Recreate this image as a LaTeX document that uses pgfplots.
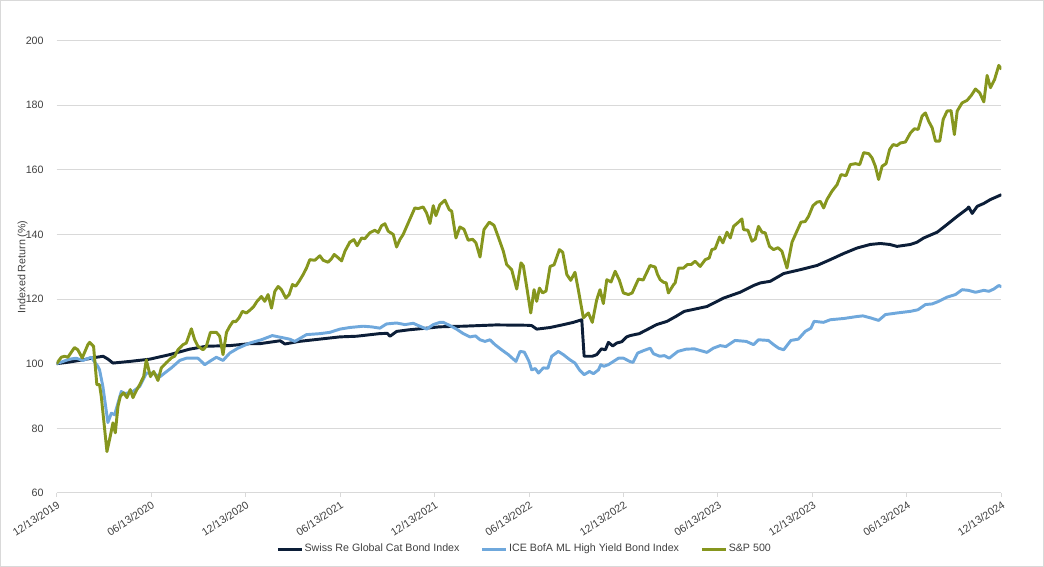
\documentclass[border=0pt]{standalone}
\usepackage{fontspec}
\setmainfont{Liberation Sans}
\usepackage{pgfplots}
\usepackage{pgfplotstable}
\pgfplotsset{compat=1.18}

\definecolor{catnavy}{HTML}{0C1E38}
\definecolor{hyblue}{HTML}{6FA8DC}
\definecolor{spolive}{HTML}{86961E}
\definecolor{gridgray}{HTML}{D9D9D9}
\definecolor{labelgray}{HTML}{404040}

% Indexed returns, 12/13/2019 = 100; x is months since 12/13/2019
\pgfplotstableread{
m v
0 100
0.8 100.5
1.67 101.2
2.54 102
2.96 102.3
3.27 101.4
3.58 100.2
4.64 100.7
5.91 101.4
7.18 102.8
8.45 104.5
9.52 105.4
11.0 105.6
12.27 106.2
12.9 106.2
14.2 107.1
14.5 106.1
15.4 106.9
16.7 107.6
18.0 108.3
19.05 108.5
20.5 109.3
21.0 109.4
21.17 108.5
21.6 110
22.4 110.5
23.5 111
24.3 111.4
24.9 111.5
25.8 111.6
27.9 112
29.85 111.9
30.17 111.8
30.49 110.7
31.34 111.2
32.2 112.1
32.82 112.8
33.35 113.6
33.5 102.3
34.02 102.3
34.3 102.8
34.6 104.6
34.85 104.3
35.04 106.6
35.32 105.5
35.57 106.4
35.89 106.8
36.2 108.3
36.42 108.7
37.0 109.3
37.48 110.5
38.1 112.1
38.76 113.1
39.28 114.5
39.86 116.2
41.3 117.7
42.35 120.3
43.4 122.1
44.26 124.2
44.69 125
45.32 125.5
46.17 127.9
47.23 129.1
48.29 130.4
49.13 132.2
49.98 134.1
50.83 135.8
51.67 136.9
52.31 137.2
52.9 136.9
53.37 136.3
54.22 136.9
54.64 137.6
55.06 138.9
55.92 140.7
56.55 143.1
57.19 145.6
57.82 147.9
57.92 148.5
58.14 146.5
58.46 148.7
58.88 149.6
59.3 150.8
60 152.3
}\catbond

\pgfplotstableread{
m v
0 100
0.83 101.4
1.25 101.7
1.67 101
2.2 102
2.62 99.2
2.73 98.1
2.94 93
3.26 81.8
3.48 84.7
3.69 84.2
3.9 87.8
4.11 91.4
4.32 90.7
4.85 91.4
5.28 93
5.70 97.1
6.12 97.1
6.55 95.9
6.86 97.1
7.29 98.7
7.82 101
8.24 101.7
8.98 101.7
9.41 99.7
9.72 100.7
10.15 102
10.57 101
11.0 103.3
11.52 104.8
12.27 106.4
13.0 107.4
13.7 108.7
14.8 107.6
15.13 106.9
15.87 109
16.72 109.3
17.35 109.7
17.99 110.7
18.62 111.2
19.47 111.6
20.0 111.4
20.53 111
20.95 112.3
21.59 112.6
22.12 112.1
22.65 112.5
23.07 111.6
23.5 110.7
23.92 112.1
24.34 112.8
24.55 112.8
24.98 111.8
25.4 110.7
25.83 109.3
26.25 108.3
26.6 108.6
26.89 107.4
27.2 106.9
27.52 107.4
27.84 105.9
28.26 104.3
28.69 102.8
29.17 100.7
29.43 103.8
29.7 103.6
30.0 100.7
30.17 98.1
30.4 98.5
30.6 97.1
30.91 98.7
31.2 98.6
31.44 102.3
31.86 103.8
32.18 102.8
32.6 101.2
32.92 100.2
33.2 98.1
33.5 96.6
33.84 97.6
34.09 96.9
34.41 98.1
34.56 99.7
34.75 99.2
35.04 99.7
35.36 100.7
35.68 101.7
36.0 101.7
36.4 100.7
36.6 100.4
36.9 103.3
37.3 104.1
37.7 104.8
37.9 103.1
38.3 102.3
38.6 102.5
38.9 101.7
39.45 103.8
39.98 104.5
40.5 104.6
41.3 103.5
41.7 104.8
42.14 105.6
42.5 105.3
43.08 107.2
43.8 106.9
44.26 105.9
44.57 107.4
45.2 107.2
45.53 105.9
45.85 104.8
46.17 104.3
46.63 107.2
47.1 107.6
47.54 110
47.9 111
48.1 113.1
48.7 112.8
49.13 113.6
50.0 114
50.83 114.6
51.2 114.8
51.67 114.2
52.2 113.4
52.63 115.2
53.37 115.7
54.22 116.2
54.7 116.7
55.17 118.3
55.6 118.5
56.02 119.3
56.55 120.6
57.08 121.4
57.5 122.9
57.9 122.7
58.35 122.1
58.88 122.7
59.2 122.4
59.51 123.1
59.83 124.2
60 123.8
}\highyield

\pgfplotstableread{
m v
0 100
0.3 102
0.51 102.3
0.72 102
1.14 105
1.35 104.3
1.63 101.8
1.99 105.9
2.10 106.6
2.35 105.4
2.56 93.5
2.73 93.5
2.84 89.9
3.20 72.8
3.43 78
3.58 81.7
3.73 78.6
3.90 86.8
4.05 89.9
4.26 91
4.47 89.5
4.68 92
4.85 89.5
5.07 91.7
5.28 93.5
5.53 96
5.70 101.2
5.96 96
6.17 97.6
6.44 94.8
6.65 98.7
6.97 100.3
7.29 101.8
7.50 102.3
7.71 104.3
8.03 105.9
8.24 106.4
8.56 110.8
8.77 107.4
8.98 105.4
9.30 104.3
9.51 105.4
9.77 109.7
10.15 109.7
10.36 108.5
10.57 102.8
10.79 109.7
11.00 111.6
11.21 113.1
11.38 113
11.59 114.2
11.80 116.2
12.06 115.7
12.31 116.7
12.52 117.7
12.73 119.3
13.01 120.8
13.22 119.3
13.43 121.4
13.65 117.2
13.86 122.4
14.07 123.9
14.28 122.9
14.56 120.3
14.77 121.4
14.98 124.5
15.19 124
15.40 125.5
15.66 127.6
15.87 129.6
16.08 132.2
16.40 132
16.72 133.4
16.93 132
17.24 131.4
17.46 132.5
17.63 133.8
17.88 132.8
18.10 131.8
18.31 134.8
18.62 137.6
18.88 138.4
19.09 136.5
19.37 138.9
19.58 138.7
19.89 140.5
20.21 141.3
20.42 140.6
20.64 142.7
20.85 143.3
21.06 141
21.38 140
21.59 136.1
21.80 138.4
22.01 140
22.37 144
22.75 148.2
22.96 148
23.28 148.5
23.50 146.6
23.71 143.4
23.92 148.9
24.09 145.8
24.34 149.2
24.66 150.6
24.93 147.7
25.09 147.2
25.36 138.9
25.61 142.3
25.87 141.6
26.14 138.2
26.42 138.5
26.63 137.4
26.89 133
27.14 141.5
27.48 143.8
27.78 142.8
28.05 139.2
28.37 134.8
28.58 130.7
28.90 129.1
29.22 123.1
29.49 131.2
29.64 130.3
29.85 123.9
30.11 115.7
30.32 122.9
30.49 119.3
30.66 123.4
30.87 121.9
31.08 122.5
31.34 130.1
31.59 130.6
31.93 135.3
32.14 134.5
32.40 127.6
32.65 125.8
32.92 128.3
33.13 122.9
33.45 114.2
33.77 115.7
34.02 112.8
34.30 119.8
34.51 122.9
34.72 118.6
34.94 126
35.21 125.3
35.47 128.6
35.74 125.8
35.99 121.9
36.31 121.4
36.55 121.9
36.95 126.2
37.25 125.9
37.69 130.4
38.01 129.9
38.16 127.6
38.33 126
38.54 125.2
38.71 125
38.85 121.9
39.17 124.4
39.28 125
39.49 129.6
39.81 129.6
40.06 130.7
40.30 130.7
40.55 131.7
40.87 130.1
41.19 132.2
41.44 132.7
41.61 135.3
41.82 135.6
42.10 139.2
42.31 137.4
42.57 140.7
42.78 138.9
42.99 142.5
43.30 143.8
43.52 144.8
43.62 141.5
43.90 141.3
44.16 137.9
44.37 138.6
44.57 142.5
44.79 140.7
45.00 140.5
45.27 136.3
45.53 135.3
45.81 135.9
46.06 134.8
46.38 129.6
46.70 137.6
47.01 141
47.27 143.8
47.54 144
47.75 145.6
48.03 148.9
48.29 150
48.50 150.2
48.71 148.2
48.92 150.8
49.24 153.4
49.56 155.4
49.81 158.5
50.13 158.2
50.40 161.6
50.72 161.9
51.00 161.6
51.25 165.3
51.57 165
51.78 163.7
51.99 161.1
52.20 157
52.42 161.1
52.67 161.9
52.90 166.3
53.12 167.8
53.37 167.5
53.58 168.3
53.90 168.6
54.22 171.4
54.47 172.7
54.71 172.5
54.96 176.6
55.17 177.6
55.38 175
55.60 173
55.81 168.9
56.08 168.9
56.30 175.6
56.55 178.2
56.80 178.3
57.01 170.9
57.19 178.2
57.50 180.7
57.82 181.5
58.08 183
58.35 185
58.62 183.8
58.88 181
59.09 189.2
59.30 185.4
59.56 187.9
59.83 192.3
60 191.1
}\spx

\begin{document}
\begin{tikzpicture}
\begin{axis}[
  name=ax,
  scale only axis,
  width=708pt, height=339pt,
  xmin=0, xmax=60, ymin=60, ymax=200,
  font=\fontsize{8}{9.6}\selectfont,
  /pgf/number format/assume math mode=true,
  axis x line*=bottom, axis y line*=left,
  y axis line style={draw=none},
  x axis line style={draw=gridgray, line width=0.75pt},
  ytick={60,80,...,200},
  ytick style={draw=none},
  yticklabel style={text=labelgray, inner sep=0pt, xshift=-6.5pt},
  xtick={0,6,...,60},
  xticklabels={12/13/2019,06/13/2020,12/13/2020,06/13/2021,12/13/2021,06/13/2022,12/13/2022,06/13/2023,12/13/2023,06/13/2024,12/13/2024},
  tick align=outside,
  major tick length=3pt,
  xtick style={draw=gridgray, line width=0.75pt},
  xticklabel style={rotate=33, anchor=north east, inner sep=0pt, text=labelgray},
  xticklabel shift=2.5pt,
  ymajorgrids,
  major grid style={draw=gridgray, line width=0.75pt},
  ylabel={Indexed Return (\%)},
  ylabel style={at={(axis description cs:-0.036,0.5)}, anchor=center, text=labelgray},
  legend columns=3,
  legend style={at={(0.495,-0.124)}, anchor=center, draw=none, fill=none,
    font=\fontsize{8}{9.6}\selectfont, text=labelgray,
    /tikz/every even column/.append style={column sep=15pt},
    nodes={inner sep=1pt}},
  legend image code/.code={\draw[#1, line width=2.2pt] (0pt,0pt) -- (18pt,0pt);},
  every axis plot/.append style={line width=2.2pt, line join=round},
]
\addplot[catnavy] table[x=m, y=v] {\catbond};
\addlegendentry{Swiss Re Global Cat Bond Index}
\addplot[hyblue] table[x=m, y=v] {\highyield};
\addlegendentry{ICE BofA ML High Yield Bond Index}
\addplot[spolive] table[x=m, y=v] {\spx};
\addlegendentry{S\&P 500}
\end{axis}
\draw[gridgray, line width=0.75pt] ([xshift=-42pt, yshift=-54.75pt]ax.south west) rectangle ([xshift=31.5pt, yshift=30pt]ax.north east);
\end{tikzpicture}
\end{document}
